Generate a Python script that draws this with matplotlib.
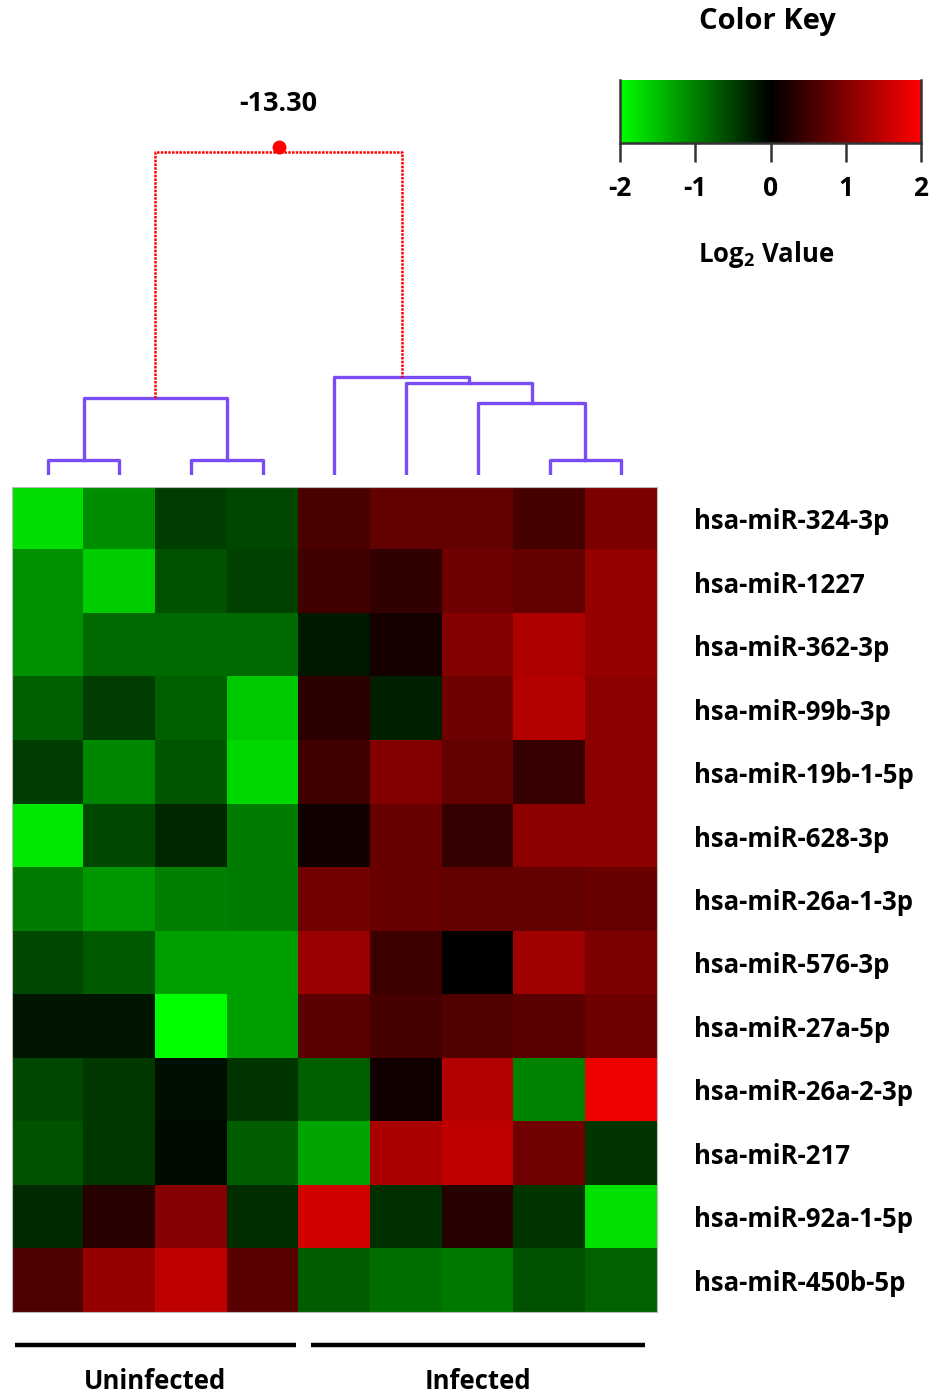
import numpy as np
import matplotlib
matplotlib.use("Agg")
import matplotlib.pyplot as plt
from matplotlib.colors import LinearSegmentedColormap, Normalize

plt.rcParams['font.family'] = ['Open Sans', 'DejaVu Sans']
plt.rcParams['font.weight'] = 'bold'
plt.rcParams['mathtext.fontset'] = 'custom'
plt.rcParams['mathtext.rm'] = 'Open Sans:bold'
plt.rcParams['mathtext.bf'] = 'Open Sans:bold'

mirnas = ['hsa-miR-324-3p', 'hsa-miR-1227', 'hsa-miR-362-3p', 'hsa-miR-99b-3p',
          'hsa-miR-19b-1-5p', 'hsa-miR-628-3p', 'hsa-miR-26a-1-3p', 'hsa-miR-576-3p',
          'hsa-miR-27a-5p', 'hsa-miR-26a-2-3p', 'hsa-miR-217', 'hsa-miR-92a-1-5p',
          'hsa-miR-450b-5p']
groups = ['Uninfected', 'Infected']
group_size = [4, 5]

# log2 values, rows = miRNAs, cols = samples (4 uninfected, 5 infected)
log2_values = np.array([
    [-1.73, -1.10, -0.47, -0.55, 0.59, 0.78, 0.78, 0.55, 0.98],
    [-1.14, -1.60, -0.63, -0.51, 0.51, 0.38, 0.86, 0.78, 1.18],
    [-1.14, -0.82, -0.82, -0.82, -0.20, 0.17, 1.02, 1.37, 1.18],
    [-0.75, -0.47, -0.75, -1.57, 0.35, -0.24, 0.86, 1.41, 1.10],
    [-0.47, -1.06, -0.67, -1.69, 0.51, 1.02, 0.77, 0.43, 1.10],
    [-1.80, -0.56, -0.31, -0.98, 0.14, 0.82, 0.41, 1.10, 1.10],
    [-0.98, -1.18, -1.00, -0.98, 0.90, 0.82, 0.77, 0.78, 0.82],
    [-0.56, -0.71, -1.25, -1.24, 1.19, 0.47, 0.00, 1.24, 0.98],
    [-0.17, -0.17, -2.00, -1.24, 0.71, 0.55, 0.63, 0.69, 0.86],
    [-0.55, -0.45, -0.12, -0.41, -0.75, 0.13, 1.40, -1.02, 1.88],
    [-0.64, -0.45, -0.09, -0.72, -1.29, 1.33, 1.49, 0.88, -0.41],
    [-0.33, 0.31, 1.04, -0.35, 1.65, -0.39, 0.30, -0.41, -1.76],
    [0.61, 1.18, 1.49, 0.69, -0.72, -0.86, -0.94, -0.63, -0.77],
])

# sample dendrogram: (left node, right node, height); leaves 0..8, new nodes from 9
merges = [(0, 1, 15), (2, 3, 15), (9, 10, 77), (7, 8, 15), (6, 12, 72),
          (5, 13, 92), (4, 14, 98), (11, 15, 323)]
root_label = '-13.30'

W, H = 941, 1395
fig = plt.figure(figsize=(W / 100, H / 100), dpi=100)


def px_axes(x0, y0, x1, y1):
    return fig.add_axes([x0 / W, 1 - y1 / H, (x1 - x0) / W, (y1 - y0) / H])


cmap = LinearSegmentedColormap.from_list('gkr', [(0, 1, 0), (0, 0, 0), (1, 0, 0)])
norm = Normalize(-2, 2)
nrow, ncol = log2_values.shape

# heatmap
ax = px_axes(12, 487, 657, 1312)
ax.imshow(log2_values, cmap=cmap, norm=norm, aspect='auto', interpolation='nearest')
ax.set_xticks([])
ax.set_yticks(range(nrow))
ax.set_yticklabels(mirnas, fontsize=18.5, fontweight='bold')
ax.yaxis.tick_right()
ax.tick_params(axis='y', length=0, pad=27)
for s in ax.spines.values():
    s.set_color('#bbbbbb')
    s.set_linewidth(0.8)

# group bars and labels
start = 0
for i, (g, n) in enumerate(zip(groups, group_size)):
    x0 = start - (0.46 if i == 0 else 0.33)
    x1 = start + n - (0.54 if i == 0 else 0.67)
    ax.plot([x0, x1], [nrow + 0.02, nrow + 0.02], color='black', lw=3.2,
            clip_on=False, solid_capstyle='butt')
    ax.text((x0 + x1) / 2, nrow + 0.6, g, ha='center', va='center', fontsize=18.5,
            fontweight='bold')
    start += n
ax.set_xlim(-0.5, ncol - 0.5)
ax.set_ylim(nrow - 0.5, -0.5)

# dendrogram
dax = px_axes(12, 130, 657, 475)
dax.set_xlim(-0.5, ncol - 0.5)
dax.set_ylim(0, 345)
dax.axis('off')
pos = {i: (float(i), 0.0) for i in range(ncol)}
node = ncol
for k, (a, b, h) in enumerate(merges):
    xa, ha = pos[a]
    xb, hb = pos[b]
    is_root = k == len(merges) - 1
    if is_root:
        dax.plot([xa, xa, xb, xb], [ha, h, h, hb], color='red', lw=1.8,
                 linestyle=(0, (1, 0.5)))
        xm = (xa + xb) / 2
        dax.plot(xm, h + 5, marker='o', color='red', ms=10, mew=0)
        dax.text(xm, h + 48, root_label, ha='center', va='center', fontsize=19.5,
                 fontweight='bold')
    else:
        dax.plot([xa, xa, xb, xb], [ha, h, h, hb], color='#7a4cf5', lw=2.4)
    pos[node] = ((xa + xb) / 2, h)
    node += 1

# color key
cax = px_axes(620, 80, 921, 143)
grad = np.linspace(-2, 2, 256)[None, :]
cax.imshow(grad, cmap=cmap, norm=norm, aspect='auto', extent=[-2, 2, 0, 1])
cax.set_yticks([])
cax.set_xticks([-2, -1, 0, 1, 2])
cax.set_xticklabels(['-2', '-1', '0', '1', '2'], fontsize=19, fontweight='bold')
cax.tick_params(axis='x', length=14, width=1.8, pad=9, color='#333333')
cax.spines['top'].set_visible(False)
for s in ['left', 'right', 'bottom']:
    cax.spines[s].set_linewidth(1.8)
    cax.spines[s].set_color('#333333')
fig.text(767 / W, 1 - 22 / H, 'Color Key', ha='center', va='center',
         fontsize=21, fontweight='bold')
fig.text(766 / W, 1 - 255 / H, r'Log$_\mathbf{2}$ Value', ha='center', va='center',
         fontsize=18.5, fontweight='bold')

fig.savefig('out.png', dpi=100)
